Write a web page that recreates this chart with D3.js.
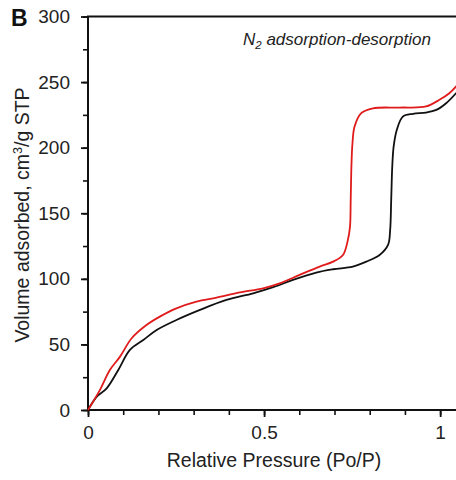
<!DOCTYPE html>
<html>
<head>
<meta charset="utf-8">
<script src="https://cdn.jsdelivr.net/npm/d3@7"></script>
<style>
  body { margin: 0; background: #fff; }
  svg { display: block; font-family: "Liberation Sans", Arial, sans-serif; }
</style>
</head>
<body>
<svg id="chart" width="456" height="480"></svg>
<script>
// adsorption branch (red) — relative pressure / volume
var redP = [0, 0.034, 0.062, 0.091, 0.124, 0.166, 0.204, 0.251, 0.308, 0.365, 0.431, 0.497, 0.544, 0.601, 0.658, 0.696, 0.724, 0.738, 0.744, 0.746, 0.748, 0.751, 0.757, 0.776, 0.809, 0.885, 0.960, 0.998, 1.026, 1.05];
var redV = [0, 15.3, 30.5, 40.7, 54.7, 64.8, 71.2, 77.5, 82.6, 85.7, 89.7, 92.8, 96.6, 103, 109.3, 113.1, 118.2, 129.7, 139.8, 160, 185.6, 203.4, 216.1, 226.3, 230, 230.6, 231.4, 236.5, 241.5, 248];

// desorption branch (black)
var blackP = [0, 0.025, 0.053, 0.086, 0.119, 0.157, 0.195, 0.251, 0.318, 0.393, 0.469, 0.526, 0.582, 0.648, 0.696, 0.752, 0.790, 0.828, 0.852, 0.858, 0.861, 0.864, 0.868, 0.877, 0.894, 0.923, 0.960, 0.989, 1.017, 1.05];
var blackV = [0, 10.2, 16.5, 30.5, 45.8, 53.4, 61, 68.6, 76.3, 83.9, 89, 93.6, 99.2, 104.8, 107.3, 109.3, 113.1, 118.2, 125.9, 137.3, 160.2, 185.6, 200.9, 213.6, 223.7, 225.8, 226.8, 228.8, 233.9, 243];

var xTicks = [0, 0.5, 1];
var xMinor = [0, 0.1, 0.2, 0.3, 0.4, 0.5, 0.6, 0.7, 0.8, 0.9, 1];
var yTicks = [0, 50, 100, 150, 200, 250, 300];
var yMinor = [0, 25, 50, 75, 100, 125, 150, 175, 200, 225, 250, 275, 300];

var svg = d3.select("#chart");
var width = 456;

var x = d3.scaleLinear().domain([0, 1.045]).range([88, 456]);
var y = d3.scaleLinear().domain([0, 300]).range([410, 16.5]);

svg.append("defs").append("clipPath").attr("id", "plotclip")
  .append("rect").attr("x", 86).attr("y", 0).attr("width", 370).attr("height", 412);

// minor ticks
svg.append("g")
    .attr("transform", "translate(88,0)")
    .call(d3.axisLeft(y).tickValues(yMinor).tickSize(5).tickFormat(""))
    .call(g => g.select(".domain").remove())
    .call(g => g.selectAll("line").attr("stroke", "#111").attr("stroke-width", 1.6));

svg.append("g")
    .attr("transform", "translate(0,410)")
    .call(d3.axisBottom(x).tickValues(xMinor).tickSize(5).tickFormat(""))
    .call(g => g.select(".domain").remove())
    .call(g => g.selectAll("line").attr("stroke", "#111").attr("stroke-width", 1.6));

// major ticks + labels
var yAxis = svg.append("g")
    .attr("transform", "translate(88,0)")
    .call(d3.axisLeft(y).tickValues(yTicks).tickSize(7).tickPadding(11).tickFormat(d3.format("d")));
yAxis.select(".domain").remove();
yAxis.selectAll("line").attr("stroke", "#111").attr("stroke-width", 1.8);
yAxis.selectAll("text").attr("font-size", 19).attr("fill", "#222")
    .attr("font-family", "Liberation Sans, Arial, sans-serif");

var xAxis = svg.append("g")
    .attr("transform", "translate(0,410)")
    .call(d3.axisBottom(x).tickValues(xTicks).tickSize(7).tickPadding(9)
      .tickFormat(function(d) { return d === 0.5 ? "0.5" : d3.format("d")(d); }));
xAxis.select(".domain").remove();
xAxis.selectAll("line").attr("stroke", "#111").attr("stroke-width", 1.8);
xAxis.selectAll("text").attr("font-size", 19).attr("fill", "#222")
    .attr("font-family", "Liberation Sans, Arial, sans-serif");

// frame: left, bottom, top
svg.append("line").attr("x1", 88).attr("x2", 88).attr("y1", y(300)).attr("y2", 411)
    .attr("stroke", "#111").attr("stroke-width", 2);
svg.append("line").attr("x1", 87).attr("x2", width).attr("y1", 410).attr("y2", 410)
    .attr("stroke", "#111").attr("stroke-width", 2);
svg.append("line").attr("x1", 87).attr("x2", width).attr("y1", y(300)).attr("y2", y(300))
    .attr("stroke", "#111").attr("stroke-width", 2);

var line = d3.line()
    .x(function(d) { return x(d[0]); })
    .y(function(d) { return y(d[1]); })
    .curve(d3.curveCatmullRom.alpha(0.5));

var plot = svg.append("g").attr("clip-path", "url(#plotclip)");

plot.append("path")
    .datum(d3.zip(blackP, blackV))
    .attr("fill", "none")
    .attr("stroke", "#111")
    .attr("stroke-width", 1.8)
    .attr("d", line);

plot.append("path")
    .datum(d3.zip(redP, redV))
    .attr("fill", "none")
    .attr("stroke", "#e01b1b")
    .attr("stroke-width", 1.8)
    .attr("d", line);

// panel letter
svg.append("text")
    .attr("x", 11).attr("y", 26)
    .attr("font-size", 23).attr("font-weight", "bold").attr("fill", "#111")
    .text("B");

// legend-ish label
var lab = svg.append("text")
    .attr("x", 243).attr("y", 45)
    .attr("font-size", 17).attr("font-style", "italic").attr("fill", "#222");
lab.append("tspan").text("N");
lab.append("tspan").attr("dy", 4).attr("font-size", 11.5).text("2");
lab.append("tspan").attr("dy", -4).text(" adsorption-desorption");

// axis titles
svg.append("text")
    .attr("x", 274).attr("y", 467)
    .attr("text-anchor", "middle")
    .attr("font-size", 19.5).attr("fill", "#222")
    .text("Relative Pressure (Po/P)");

var yt = svg.append("text")
    .attr("transform", "translate(29,215) rotate(-90)")
    .attr("text-anchor", "middle")
    .attr("font-size", 19.5).attr("fill", "#222");
yt.append("tspan").text("Volume adsorbed, cm");
yt.append("tspan").attr("dy", -7).attr("font-size", 12.5).text("3");
yt.append("tspan").attr("dy", 7).text("/g STP");
</script>
</body>
</html>
